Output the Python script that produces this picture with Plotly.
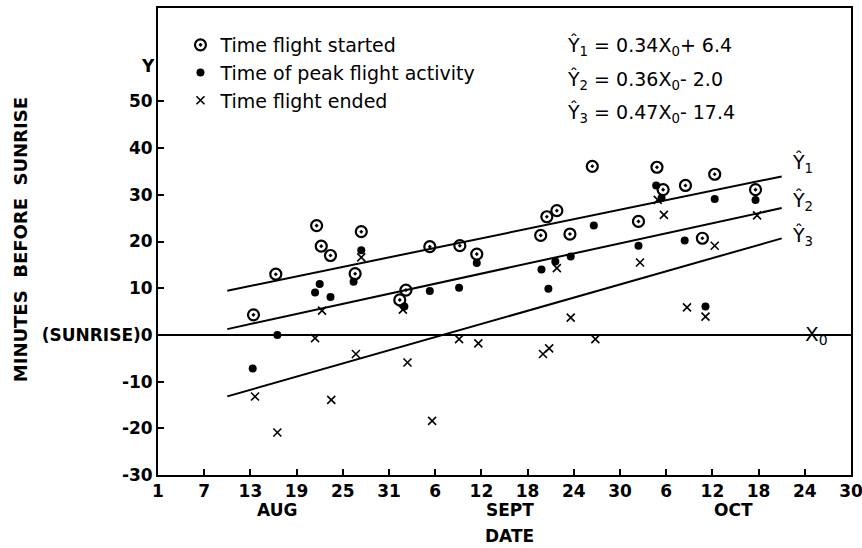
import plotly.graph_objects as go

# ---- data (x = days after Aug 1; y = minutes before sunrise) ----
started_day = [12.4, 15.3, 20.6, 21.2, 22.4, 26.4, 25.6, 32.2, 31.4, 35.3, 39.2, 41.4,
               49.7, 50.5, 51.8, 53.5, 56.4, 62.4, 64.8, 65.6, 68.5, 70.7, 72.3, 77.6]
started_min = [4.3, 13.0, 23.4, 19.0, 17.0, 22.1, 13.1, 9.6, 7.5, 18.9, 19.1, 17.3,
               21.3, 25.3, 26.6, 21.6, 36.1, 24.3, 35.9, 31.1, 32.0, 20.7, 34.4, 31.1]

peak_day = [12.3, 15.5, 20.4, 21.0, 22.4, 25.4, 26.4, 32.0, 35.3, 39.1, 41.4, 49.8,
            50.7, 51.6, 53.6, 56.6, 62.4, 64.7, 65.4, 68.4, 71.1, 72.3, 77.6]
peak_min = [-7.2, 0.0, 9.1, 10.9, 8.1, 11.4, 18.1, 6.1, 9.4, 10.1, 15.4, 14.0,
            9.9, 15.7, 16.8, 23.4, 19.1, 32.0, 29.3, 20.2, 6.1, 29.1, 28.9]

ended_day = [12.6, 15.5, 20.4, 21.3, 22.5, 25.7, 26.4, 31.8, 32.4, 35.6, 39.1, 41.6,
             50.0, 50.8, 51.8, 53.6, 56.8, 62.6, 64.9, 65.7, 68.7, 71.1, 72.3, 77.8]
ended_min = [-13.2, -20.9, -0.7, 5.2, -13.9, -4.1, 16.6, 5.4, -5.9, -18.4, -0.9, -1.8,
             -4.1, -2.9, 14.3, 3.7, -0.9, 15.5, 28.9, 25.7, 5.9, 3.9, 19.1, 25.6]

# regression lines  Y = slope * X0 + intercept
reg_names = ["1", "2", "3"]
reg_slope = [0.34, 0.36, 0.47]
reg_intercept = [6.4, -2.0, -17.4]
reg_x_span = [9, 81]

x_tickvals = list(range(0, 91, 6))
x_ticktext = ["1", "7", "13", "19", "25", "31", "6", "12", "18", "24", "30",
              "6", "12", "18", "24", "30"]
y_tickvals = [-30, -20, -10, 0, 10, 20, 30, 40, 50]
y_ticktext = ["-30", "-20", "-10", "(SUNRISE)0", "10", "20", "30", "40", "50"]
months = ["AUG", "SEPT", "OCT"]
month_pos = [15.5, 45.7, 74.8]

FONT = "DejaVu Sans"
fig = go.Figure()

for s, b in zip(reg_slope, reg_intercept):
    xs = reg_x_span
    fig.add_trace(go.Scatter(x=xs, y=[s * x + b for x in xs], mode="lines",
                             line=dict(color="black", width=2), showlegend=False,
                             hoverinfo="skip"))

fig.add_trace(go.Scatter(x=started_day, y=started_min, mode="markers",
                         name="Time flight started",
                         marker=dict(symbol="circle-open-dot", size=11, color="black",
                                     line=dict(width=2.2, color="black"))))
fig.add_trace(go.Scatter(x=peak_day, y=peak_min, mode="markers",
                         name="Time of peak flight activity",
                         marker=dict(symbol="circle", size=8, color="black")))
fig.add_trace(go.Scatter(x=ended_day, y=ended_min, mode="markers",
                         name="Time flight ended",
                         marker=dict(symbol="x-thin", size=8, color="black",
                                     line=dict(width=1.6, color="black"))))

ann = []
# equations
eq_y = [46, 80, 113]
for n, s, b, yy in zip(reg_names, reg_slope, reg_intercept, eq_y):
    sign = "+" if b >= 0 else "-"
    ann.append(dict(xref="paper", yref="paper", x=(565 - 157.5) / 694, y=(475 - yy) / 467,
                    xanchor="left", yanchor="middle", showarrow=False,
                    text=f"Ŷ<sub>{n}</sub> = {s:.2f}X<sub>0</sub>{sign} {abs(b):.1f}",
                    font=dict(family=FONT, size=19, color="black")))
# line labels
for n, s, b, dy in zip(reg_names, reg_slope, reg_intercept, [13, 7, 2]):
    xe = reg_x_span[1]
    ann.append(dict(x=xe, y=s * xe + b, xanchor="left", yanchor="middle",
                    xshift=8, yshift=dy, showarrow=False,
                    text=f"Ŷ<sub>{n}</sub>",
                    font=dict(family=FONT, size=19, color="black")))
# X0 label at the zero line
ann.append(dict(x=85.5, y=0, xanchor="center", yanchor="middle", showarrow=False,
                text="X<sub>0</sub>", font=dict(family=FONT, size=20, color="black")))
# months and axis titles
for m, p in zip(months, month_pos):
    ann.append(dict(x=p, xref="x", yref="paper", y=(475 - 510) / 467, yanchor="middle",
                    showarrow=False, text=m,
                    font=dict(family=FONT, size=17, color="black", weight="bold")))
ann.append(dict(x=45.7, xref="x", yref="paper", y=(475 - 536) / 467, yanchor="middle",
                showarrow=False, text="DATE",
                font=dict(family=FONT, size=17, color="black", weight="bold")))
ann.append(dict(xref="paper", yref="paper", x=(20 - 157.5) / 694, y=(475 - 239.5) / 467,
                xanchor="center", yanchor="middle", textangle=-90, showarrow=False,
                text="MINUTES  BEFORE  SUNRISE",
                font=dict(family=FONT, size=18, color="black", weight="bold")))
ann.append(dict(xref="paper", yref="paper", x=(147 - 157.5) / 694, y=(475 - 66) / 467,
                xanchor="center", yanchor="middle", showarrow=False, text="Y",
                font=dict(family=FONT, size=17, color="black", weight="bold")))

fig.update_layout(
    width=862, height=548,
    margin=dict(l=157.5, r=10.5, t=8, b=73, autoexpand=False),
    paper_bgcolor="white", plot_bgcolor="white",
    font=dict(family=FONT, color="black"),
    showlegend=True,
    legend=dict(x=(180 - 157.5) / 694, y=(475 - 26) / 467, xanchor="left", yanchor="top",
                bgcolor="rgba(0,0,0,0)", font=dict(family=FONT, size=19, color="black"),
                tracegroupgap=0),
    annotations=ann,
)
fig.update_xaxes(range=[0, 90], tickmode="array", tickvals=x_tickvals, ticktext=x_ticktext,
                 ticks="inside", ticklen=6, tickwidth=2, tickcolor="black",
                 showline=True, linecolor="black", linewidth=2, mirror=True,
                 showgrid=False, zeroline=False, ticklabeloverflow="allow", automargin=False,
                 tickfont=dict(family=FONT, size=17, color="black", weight="bold"))
fig.update_yaxes(range=[-30, 70], tickmode="array", tickvals=y_tickvals, ticktext=y_ticktext,
                 ticks="inside", ticklen=6, tickwidth=2, tickcolor="black",
                 showline=True, linecolor="black", linewidth=2, mirror=True, automargin=False,
                 showgrid=False, zeroline=True, zerolinecolor="black", zerolinewidth=2,
                 tickfont=dict(family=FONT, size=17, color="black", weight="bold"))

fig.write_html("out.html", config={"displayModeBar": False},
               post_script="document.body.style.margin='0';document.body.style.overflow='hidden';")
